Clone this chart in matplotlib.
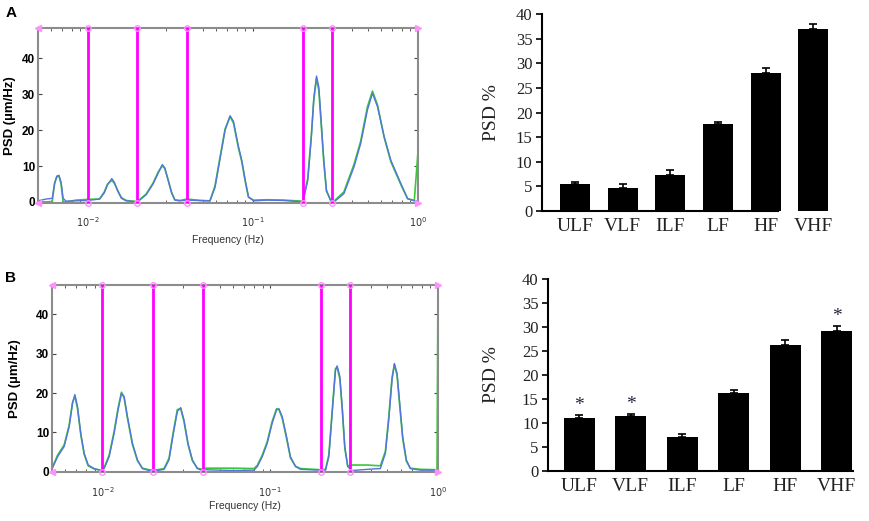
import matplotlib
matplotlib.use('Agg')
import matplotlib.pyplot as plt
from matplotlib.ticker import FixedLocator, NullFormatter

plt.rcParams['font.family'] = ['Liberation Sans', 'DejaVu Sans']

# ---------------- data ----------------
band_edges = [0.005, 0.01, 0.02, 0.04, 0.2, 0.3, 1.0]
bands = ['ULF', 'VLF', 'ILF', 'LF', 'HF', 'VHF']

# panel A spectrum (Hz, PSD)
freq_a = [0.0050, 0.0056, 0.0061, 0.0063, 0.0065, 0.0067, 0.0069, 0.0071, 0.0074, 0.0085,
          0.0100, 0.0118, 0.0126, 0.0132, 0.0140, 0.0145, 0.0152, 0.0160, 0.0171, 0.0200,
          0.0226, 0.0249, 0.0267, 0.0283, 0.0293, 0.0307, 0.0322, 0.0337, 0.0361, 0.0400,
          0.0478, 0.0550, 0.0590, 0.0633, 0.0679, 0.0728, 0.0763, 0.0818, 0.0857, 0.0900,
          0.0941, 0.101, 0.122, 0.154, 0.201, 0.215, 0.226, 0.234, 0.243, 0.251,
          0.259, 0.269, 0.279, 0.296, 0.310, 0.356, 0.410, 0.450, 0.494, 0.530,
          0.569, 0.624, 0.685, 0.788, 0.865, 0.950, 1.0]
blue_a = [0.3, 0.8, 1.0, 5.0, 7.2, 7.4, 5.5, 1.0, 0.2, 0.3,
          0.4, 0.8, 2.5, 4.8, 6.5, 5.5, 3.0, 1.0, 0.3, 0.0,
          2.0, 5.0, 8.0, 10.4, 9.5, 6.0, 2.5, 0.5, 0.3, 0.5,
          0.4, 0.3, 4.0, 12.0, 20.0, 24.0, 22.5, 15.5, 11.6, 6.0,
          1.4, 0.3, 0.5, 0.4, 0.0, 6.0, 18.0, 29.0, 35.1, 32.0,
          22.8, 11.6, 3.3, 0.3, 0.0, 2.3, 9.8, 16.3, 25.6, 30.3,
          26.5, 18.2, 11.6, 5.1, 0.9, 0.3, 0.3]
green_a = [0.0, 0.0, 0.1, 5.2, 7.0, 7.2, 5.0, 0.0, 0.0, 0.5,
           0.7, 0.8, 2.8, 5.0, 6.0, 5.2, 3.2, 1.2, 0.4, 0.1,
           2.2, 5.3, 8.3, 10.1, 9.3, 6.2, 2.7, 0.6, 0.4, 0.8,
           0.4, 0.3, 4.5, 12.5, 20.3, 23.8, 22.0, 15.0, 11.2, 5.6,
           1.3, 0.5, 0.6, 0.5, 0.2, 6.5, 18.5, 28.5, 34.5, 31.0,
           22.0, 11.0, 3.0, 0.5, 0.2, 2.8, 10.5, 17.0, 26.5, 30.9,
           27.0, 18.0, 11.2, 4.8, 0.9, 0.4, 14.0]

# panel B spectrum (Hz, PSD)
freq_b = [0.00497, 0.00540, 0.00591, 0.00633, 0.00663, 0.00685, 0.00710, 0.00743, 0.00778, 0.00822,
          0.00892, 0.00977, 0.01023, 0.01096, 0.01173, 0.01239, 0.01298, 0.01346, 0.01409, 0.01509,
          0.01616, 0.01730, 0.01896, 0.02013, 0.02125, 0.02329, 0.02493, 0.02646, 0.02795, 0.02927,
          0.03063, 0.03236, 0.03435, 0.03677, 0.03937, 0.04121, 0.06080, 0.07998, 0.08375, 0.08962,
          0.09593, 0.1027, 0.1091, 0.1127, 0.1179, 0.1251, 0.1320, 0.1415, 0.1516, 0.1995,
          0.2136, 0.2236, 0.2340, 0.2449, 0.2506, 0.2600, 0.2686, 0.2783, 0.2897, 0.3078,
          0.3778, 0.4536, 0.4860, 0.5086, 0.5322, 0.5497, 0.5702, 0.5914, 0.6162, 0.6478,
          0.6839, 0.7855, 0.987, 1.0]
blue_b = [0.4, 3.8, 6.4, 11.4, 17.4, 19.6, 16.5, 9.7, 4.7, 1.7,
          0.8, 0.3, 0.8, 3.8, 9.7, 15.7, 19.9, 19.1, 14.0, 7.2,
          3.0, 0.8, 0.3, 0.3, 0.3, 0.6, 3.0, 9.7, 15.3, 16.3,
          13.1, 7.2, 3.0, 0.8, 0.3, 0.5, 0.3, 0.4, 1.3, 3.8,
          7.2, 12.3, 15.7, 16.0, 14.0, 8.9, 3.8, 1.3, 0.6, 0.4,
          0.4, 3.8, 14.8, 25.8, 26.9, 24.2, 16.5, 6.4, 1.3, 0.3,
          0.6, 0.8, 4.7, 13.1, 23.3, 27.5, 25.0, 17.4, 8.9, 3.0,
          0.8, 0.4, 0.4, 0.4]
green_b = [0.6, 4.2, 6.8, 11.8, 17.6, 19.2, 16.0, 9.3, 4.4, 1.5,
           0.7, 0.4, 1.0, 4.2, 10.2, 16.2, 20.2, 18.8, 13.6, 6.9,
           2.8, 0.9, 0.5, 0.4, 0.5, 0.8, 3.4, 10.2, 15.8, 16.0,
           12.7, 6.9, 2.8, 0.9, 0.6, 0.9, 0.9, 0.8, 1.6, 4.2,
           7.6, 12.8, 16.0, 15.8, 13.6, 8.5, 3.5, 1.4, 0.8, 0.5,
           0.6, 4.3, 15.4, 26.2, 26.5, 23.6, 16.0, 6.0, 1.4, 1.7,
           1.7, 1.5, 5.2, 13.8, 23.9, 27.2, 24.5, 16.8, 8.4, 2.7,
           0.9, 0.6, 0.5, 47.4]

# bar charts (PSD %)
psd_a = [5.4, 4.7, 7.4, 17.6, 28.1, 36.9]
err_a = [0.4, 0.7, 0.9, 0.5, 0.9, 1.1]
psd_b = [11.0, 11.4, 7.0, 16.2, 26.2, 29.1]
err_b = [0.6, 0.5, 0.7, 0.6, 1.1, 1.1]
sig_b = [True, True, False, False, False, True]


def psd_panel(ax, freq, blue, green, ymin, ymax):
    ax.set_xscale('log')
    ax.set_xlim(band_edges[0], band_edges[-1])
    ax.set_ylim(ymin, ymax)
    ax.plot(freq, green, color='#38c838', lw=1.2)
    ax.plot(freq, blue, color='#5573e0', lw=1.0)
    for e in band_edges[1:-1]:
        ax.plot([e, e], [ymin, ymax], color='#ff00ff', lw=2.0, zorder=4)
        ax.plot([e, e], [ymin, ymax], ls='none', marker='o', ms=4, mfc='none',
                mec='#ff90ff', mew=1.0, zorder=5, clip_on=False)
    ax.plot([band_edges[0]] * 2, [ymin, ymax], ls='none', marker='<', ms=5,
            color='#ff90ff', clip_on=False, zorder=5)
    ax.plot([band_edges[-1]] * 2, [ymin, ymax], ls='none', marker='>', ms=5,
            color='#ff90ff', clip_on=False, zorder=5)
    for s in ax.spines.values():
        s.set_color('#8c8c8c')
        s.set_linewidth(1.5)
    ax.xaxis.set_major_locator(FixedLocator([0.01, 0.1, 1.0]))
    ax.set_xticklabels(['$10^{-2}$', '$10^{-1}$', '$10^{0}$'], fontsize=7, color='#333333')
    ax.xaxis.set_minor_formatter(NullFormatter())
    ax.tick_params(axis='x', which='both', direction='in', top=True, pad=9,
                   length=2, color='#444444')
    ax.set_yticks([0, 10, 20, 30, 40])
    ax.set_yticklabels(['0', '10', '20', '30', '40'], fontsize=8.5, fontweight='bold',
                       family=['Liberation Sans Narrow', 'Liberation Sans'])
    ax.tick_params(axis='y', direction='in', right=True, length=3, pad=2, color='#444444')
    ax.set_ylabel('PSD (µm/Hz)', fontsize=9.5, fontweight='bold')
    ax.set_xlabel('Frequency (Hz)', fontsize=7.5, color='#333333',
                  family=['Liberation Sans Narrow', 'Liberation Sans'])


def bar_panel(ax, vals, errs, xmin, axis_end, width):
    pos = list(range(len(bands)))
    ax.bar(pos, vals, width=width, color='black', zorder=2)
    ax.errorbar(pos, vals, yerr=[[0] * len(errs), errs], fmt='none', ecolor='black',
                elinewidth=1.2, capsize=3, capthick=1.2, zorder=1)
    ax.set_xlim(xmin, 5.45)
    ax.set_ylim(0, 40)
    ax.set_yticks(range(0, 41, 5))
    ax.set_xticks(pos)
    ax.set_xticklabels(bands, fontsize=14, family='Liberation Serif', color='#222222')
    for lab in ax.get_yticklabels():
        lab.set_fontsize(12)
        lab.set_family('Liberation Serif')
        lab.set_color('#222222')
    ax.tick_params(axis='x', length=0, pad=5)
    ax.tick_params(axis='y', length=4, width=1.2, pad=3)
    ax.spines['top'].set_visible(False)
    ax.spines['right'].set_visible(False)
    ax.spines['left'].set_linewidth(1.5)
    ax.spines['bottom'].set_linewidth(1.5)
    ax.spines['bottom'].set_bounds(xmin, axis_end)
    ax.set_ylabel('PSD %', fontsize=14, family='Liberation Serif', color='#222222')


fig = plt.figure(figsize=(8.69, 5.21), dpi=100)

ax1 = fig.add_axes([0.0437, 0.6104, 0.4373, 0.3359])
psd_panel(ax1, freq_a, blue_a, green_a, -0.3, 48.5)
ax1.yaxis.set_label_coords(-0.058, 0.5)
ax1.xaxis.set_label_coords(0.5, -0.185)

ax3 = fig.add_axes([0.0598, 0.0931, 0.4442, 0.3599])
psd_panel(ax3, freq_b, blue_b, green_b, -0.2, 47.45)
ax3.yaxis.set_label_coords(-0.08, 0.5)
ax3.xaxis.set_label_coords(0.5, -0.15)

ax2 = fig.add_axes([0.624, 0.595, 0.3368, 0.3781])
bar_panel(ax2, psd_a, err_a, -0.685, 4.26, 0.63)
ax2.yaxis.set_label_coords(-0.145, 0.5)

ax4 = fig.add_axes([0.631, 0.0965, 0.3587, 0.3674])
bar_panel(ax4, psd_b, err_b, -0.596, 5.32, 0.6)
ax4.yaxis.set_label_coords(-0.155, 0.5)
for i, s in enumerate(sig_b):
    if s:
        ax4.text(i, psd_b[i] + err_b[i] + 0.2, '*', ha='center', va='bottom',
                 fontsize=14, family='Liberation Serif', color='#2a1f3a')

fig.text(0.006, 1 - 6 / 521, 'A', fontsize=11, fontweight='bold', va='top')
fig.text(0.006, 1 - 271 / 521, 'B', fontsize=11, fontweight='bold', va='top')

fig.savefig('out.png', dpi=100)
